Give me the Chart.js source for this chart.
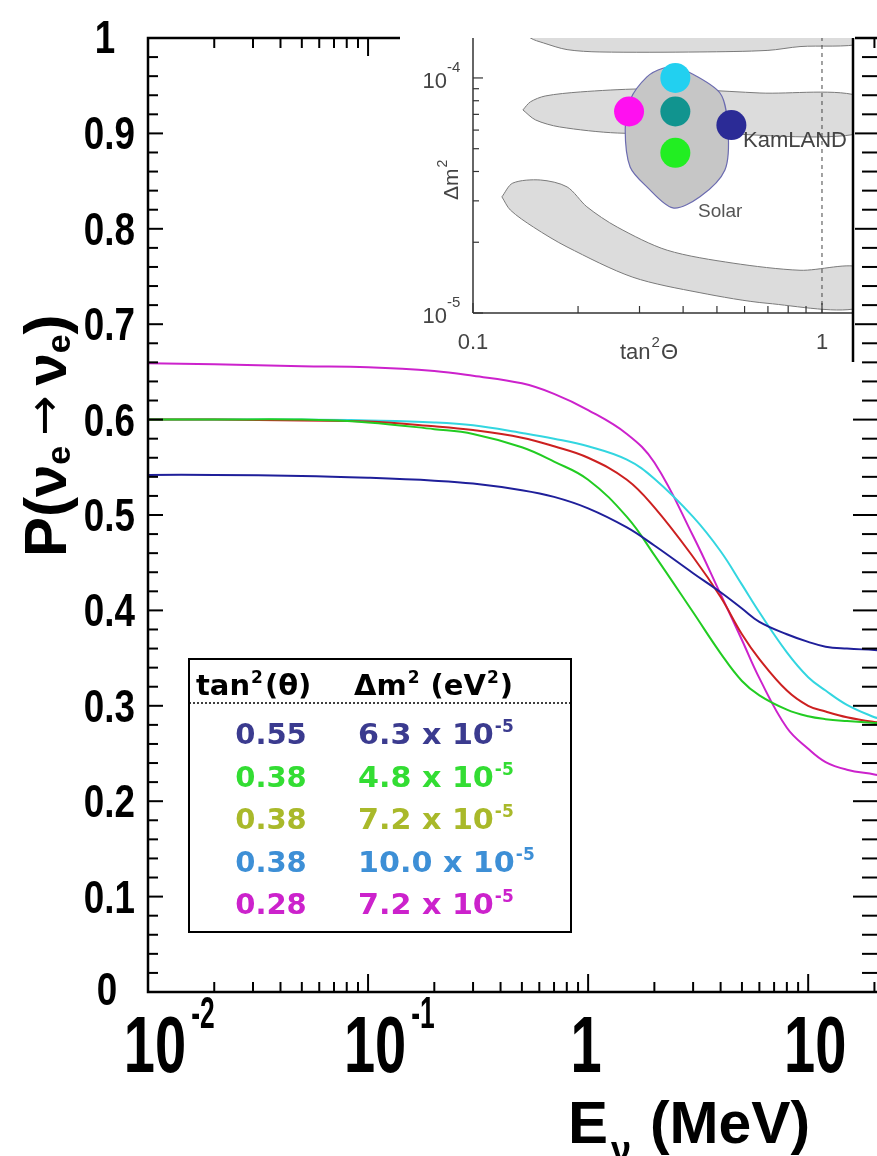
<!DOCTYPE html>
<html>
<head>
<meta charset="utf-8">
<title>P(νe → νe) vs Eν</title>
<script src="https://cdn.jsdelivr.net/npm/chart.js@4.4.1/dist/chart.umd.min.js"></script>
<style>
  html, body { margin: 0; padding: 0; background: #fff; overflow: hidden; }
  #wrap { position: relative; width: 877px; height: 1156px; overflow: hidden; }
  #main { position: absolute; left: 0; top: 0; }
  #inset { position: absolute; left: 400px; top: 0; background: #fff; }
</style>
</head>
<body>
<div id="wrap">
  <canvas id="main" width="882" height="1156"></canvas>
  <canvas id="inset" width="455" height="362"></canvas>
</div>
<script>
// ---- main plot data: survival probability vs neutrino energy (MeV)
const energies = [0.01, 0.02, 0.05, 0.1, 0.2, 0.3, 0.5, 0.7, 1, 1.5, 2, 3, 4, 5, 6, 8, 10, 12, 15, 20, 21];
const probBlue    = [0.542, 0.542, 0.541, 0.539, 0.536, 0.533, 0.526, 0.519, 0.507, 0.487, 0.468, 0.439, 0.419, 0.402, 0.388, 0.375, 0.367, 0.362, 0.360, 0.3585, 0.358];
const probGreen   = [0.600, 0.600, 0.600, 0.597, 0.590, 0.585, 0.571, 0.556, 0.537, 0.498, 0.458, 0.398, 0.355, 0.326, 0.311, 0.296, 0.289, 0.286, 0.284, 0.282, 0.282];
const probRed     = [0.600, 0.600, 0.599, 0.598, 0.593, 0.589, 0.581, 0.572, 0.560, 0.537, 0.508, 0.456, 0.414, 0.375, 0.349, 0.316, 0.300, 0.294, 0.288, 0.283, 0.283];
const probCyan    = [0.600, 0.600, 0.600, 0.599, 0.597, 0.594, 0.586, 0.580, 0.572, 0.558, 0.538, 0.498, 0.462, 0.427, 0.398, 0.356, 0.330, 0.316, 0.301, 0.288, 0.287];
const probMagenta = [0.659, 0.658, 0.656, 0.655, 0.651, 0.646, 0.638, 0.627, 0.610, 0.585, 0.555, 0.478, 0.417, 0.369, 0.329, 0.277, 0.255, 0.241, 0.233, 0.228, 0.227];

const yTickValues = [0, 0.1, 0.2, 0.3, 0.4, 0.5, 0.6, 0.7, 0.8, 0.9, 1];
const xTickValues = [0.01, 0.1, 1, 10];
const xTickBase = ['10', '10', '1', '10'];
const xTickExp = ['-2', '-1', '', ''];

// legend table (tan^2 theta, delta m^2 in 1e-5 eV^2)
const tanValues = [0.55, 0.38, 0.38, 0.38, 0.28];
const dmValues = [6.3, 4.8, 7.2, 10.0, 7.2];
const tanLabels = ['0.55', '0.38', '0.38', '0.38', '0.28'];
const dmLabels = ['6.3', '4.8', '7.2', '10.0', '7.2'];
const legendColors = ['#3b3b8f', '#33dd33', '#a9b92a', '#3d8fd6', '#cc22cc'];
const curveColors = ['#1f1f9a', '#22cc22', '#cc2020', '#33d6e0', '#cc22cc'];
const dotColors = ['#2b2b96', '#22ee22', '#11948f', '#22d0f0', '#ff10f0'];

// ---- inset contours, points are [tan^2 theta, delta m^2]
const kamlandTop = [[0.140, 1.6e-4], [0.146, 1.48e-4], [0.159, 1.41e-4], [0.186, 1.32e-4], [0.231, 1.29e-4], [0.447, 1.29e-4],
  [0.70, 1.31e-4], [0.865, 1.36e-4], [1.3, 1.40e-4], [1.3, 1.6e-4], [0.140, 1.6e-4]];
const kamlandMid = [[0.139, 7.31e-5], [0.146, 7.91e-5], [0.161, 8.38e-5], [0.203, 8.72e-5], [0.301, 8.98e-5], [0.447, 8.89e-5],
  [0.664, 8.63e-5], [1.3, 8.30e-5], [1.3, 5.83e-5], [0.447, 5.83e-5], [0.259, 5.83e-5], [0.177, 6.19e-5], [0.151, 6.63e-5], [0.139, 7.31e-5]];
const kamlandLow = [[0.121, 3.12e-5], [0.130, 3.57e-5], [0.156, 3.68e-5], [0.186, 3.44e-5], [0.212, 2.83e-5], [0.259, 2.32e-5],
  [0.360, 1.85e-5], [0.556, 1.63e-5], [0.865, 1.52e-5], [1.3, 1.55e-5], [1.3, 1.06e-5], [0.696, 1.10e-5], [0.447, 1.22e-5],
  [0.287, 1.42e-5], [0.186, 1.91e-5], [0.149, 2.32e-5], [0.128, 2.74e-5], [0.121, 3.12e-5]];
const solarRegion = [[0.392, 1.114e-4], [0.510, 8.63e-5], [0.538, 6.01e-5], [0.527, 4.06e-5], [0.447, 3.12e-5], [0.374, 2.80e-5],
  [0.315, 3.44e-5], [0.282, 4.18e-5], [0.273, 6.01e-5], [0.282, 8.06e-5], [0.315, 1.01e-4], [0.350, 1.10e-4], [0.392, 1.114e-4]];

const SANS = '"Liberation Sans", Arial, Helvetica, sans-serif';
const DJ = '"DejaVu Sans", Verdana, sans-serif';

function seg(ctx, x1, y1, x2, y2) {
  ctx.beginPath(); ctx.moveTo(x1, y1); ctx.lineTo(x2, y2); ctx.stroke();
}
function text(ctx, s, x, y, font, color, align = 'left', sx = 1) {
  ctx.save();
  ctx.font = font; ctx.fillStyle = color; ctx.textAlign = 'left'; ctx.textBaseline = 'alphabetic';
  const w = ctx.measureText(s).width * sx;
  const x0 = align === 'right' ? x - w : align === 'center' ? x - w / 2 : x;
  ctx.translate(x0, y); ctx.scale(sx, 1); ctx.fillText(s, 0, 0);
  ctx.restore();
  return w;
}
const pts = (arr) => arr.map(p => ({x: p[0], y: p[1]}));
const series = (vals) => energies.map((e, i) => ({x: e, y: vals[i]}));

const mainDeco = {
  id: 'mainDeco',
  afterDraw(chart) {
    const ctx = chart.ctx, xs = chart.scales.x, ys = chart.scales.y, a = chart.chartArea;
    ctx.save();
    ctx.strokeStyle = '#000';
    ctx.lineWidth = 2.5;
    ctx.strokeRect(a.left, a.top, a.right - a.left, a.bottom - a.top);
    ctx.lineWidth = 2;
    // y ticks every 0.02
    for (let k = 0; k <= 50; k++) {
      const py = ys.getPixelForValue(k / 50), major = k % 5 === 0;
      seg(ctx, a.left, py, a.left + (major ? 15 : 10), py);
      seg(ctx, a.right, py, a.right - (major ? 27 : 18), py);
    }
    // x ticks (log)
    for (let d = -2; d <= 1; d++) {
      for (let m = 1; m <= 9; m++) {
        const v = m * Math.pow(10, d);
        if (v < xs.min || v > xs.max) continue;
        const px = xs.getPixelForValue(v), len = m === 1 ? 18 : 10;
        seg(ctx, px, a.bottom, px, a.bottom - len);
        seg(ctx, px, a.top, px, a.top + len);
      }
    }
    // y tick labels
    yTickValues.forEach(v => {
      const py = ys.getPixelForValue(v);
      const f = `bold 46px ${SANS}`;
      if (v === 0) text(ctx, '0', 107, 1005, f, '#000', 'center', 0.8);
      else if (v === 1) text(ctx, '1', 105, 53, f, '#000', 'center', 0.8);
      else text(ctx, v.toFixed(1), 135, py + 16, f, '#000', 'right', 0.8);
    });
    // x tick labels
    xTickValues.forEach((v, i) => {
      const px = xs.getPixelForValue(v) + (xTickBase[i] === '10' ? 7 : -2);
      const w = text(ctx, xTickBase[i], px, 1072, `bold 80px ${SANS}`, '#000', 'center', 0.7);
      if (xTickExp[i]) text(ctx, xTickExp[i], px + w / 2 + 5, 1028, `bold 44px ${SANS}`, '#000', 'left', 0.6);
    });
    // x title
    text(ctx, 'E', 568, 1143, `bold 60px ${SANS}`, '#000');
    text(ctx, 'ν', 611, 1162, `bold 36px ${SANS}`, '#000');
    text(ctx, '(MeV)', 650, 1143, `bold 60px ${SANS}`, '#000', 'left', 0.98);
    // y title (rotated)
    ctx.save();
    ctx.translate(66, 557);
    ctx.rotate(-Math.PI / 2);
    let p = 0;
    p += text(ctx, 'P(', p, 0, `bold 60px ${SANS}`, '#000');
    p += text(ctx, 'ν', p, 0, `bold 58px ${SANS}`, '#000');
    p += text(ctx, 'e', p, 4, `bold 34px ${SANS}`, '#000');
    p += 10;
    p += text(ctx, '→', p, -6, `48px ${DJ}`, '#000');
    p += 10;
    p += text(ctx, 'ν', p, 0, `bold 58px ${SANS}`, '#000');
    p += text(ctx, 'e', p, 4, `bold 34px ${SANS}`, '#000');
    text(ctx, ')', p, 0, `bold 60px ${SANS}`, '#000');
    ctx.restore();
    // legend table
    const L = {left: 189, top: 659, right: 571, bottom: 932};
    ctx.fillStyle = '#fff';
    ctx.fillRect(L.left, L.top, L.right - L.left, L.bottom - L.top);
    ctx.lineWidth = 2;
    ctx.strokeRect(L.left, L.top, L.right - L.left, L.bottom - L.top);
    const hf = `bold 29px ${DJ}`, sf = `bold 17px ${DJ}`;
    let x = 196;
    x += text(ctx, 'tan', x, 695, hf, '#000');
    x += text(ctx, '2', x + 1, 683, sf, '#000') + 3;
    text(ctx, '(θ)', x, 695, hf, '#000');
    x = 354;
    x += text(ctx, 'Δm', x, 695, hf, '#000');
    x += text(ctx, '2', x + 1, 683, sf, '#000') + 2;
    x += text(ctx, ' (eV', x, 695, hf, '#000');
    x += text(ctx, '2', x + 1, 683, sf, '#000') + 2;
    text(ctx, ')', x, 695, hf, '#000');
    ctx.lineWidth = 1.5;
    ctx.setLineDash([2, 2]);
    seg(ctx, L.left, 703, L.right, 703);
    ctx.setLineDash([]);
    const rf = `bold 29px ${DJ}`;
    tanLabels.forEach((t, i) => {
      const base = 744 + i * 42.5;
      text(ctx, t, 271, base, rf, legendColors[i], 'center');
      let xx = 358;
      xx += text(ctx, dmLabels[i] + ' x 10', xx, base, rf, legendColors[i], 'left', 1.04);
      text(ctx, '-5', xx + 1, base - 12, `bold 17px ${DJ}`, legendColors[i]);
    });
    ctx.restore();
  }
};

new Chart(document.getElementById('main'), {
  type: 'line',
  data: {
    datasets: [
      {label: '0.55, 6.3e-5', data: series(probBlue), borderColor: curveColors[0]},
      {label: '0.38, 4.8e-5', data: series(probGreen), borderColor: curveColors[1]},
      {label: '0.38, 7.2e-5', data: series(probRed), borderColor: curveColors[2]},
      {label: '0.38, 10.0e-5', data: series(probCyan), borderColor: curveColors[3]},
      {label: '0.28, 7.2e-5', data: series(probMagenta), borderColor: curveColors[4]}
    ]
  },
  options: {
    responsive: false,
    animation: false,
    events: [],
    layout: {autoPadding: false, padding: {left: 148, top: 38, right: 2, bottom: 164}},
    elements: {
      line: {borderWidth: 2, tension: 0.4, fill: false},
      point: {radius: 0}
    },
    scales: {
      x: {type: 'logarithmic', min: 0.01, max: 21.2, display: false},
      y: {type: 'linear', min: 0, max: 1, display: false}
    },
    plugins: {legend: {display: false}, tooltip: {enabled: false}}
  },
  plugins: [mainDeco]
});

// ---- inset
const insetDeco = {
  id: 'insetDeco',
  afterDatasetDraw(chart, args) {
    if (args.index !== 2) return;
    const ctx = chart.ctx;
    text(ctx, 'KamLAND', 343, 147, `22px ${SANS}`, '#444');
    text(ctx, 'Solar', 298, 217, `19px ${SANS}`, '#555');
  },
  afterDraw(chart) {
    const ctx = chart.ctx, xs = chart.scales.x, ys = chart.scales.y, a = chart.chartArea;
    ctx.save();
    ctx.strokeStyle = '#333';
    ctx.lineWidth = 1.5;
    seg(ctx, a.left, a.top, a.left, a.bottom);
    seg(ctx, a.left, a.bottom, a.right, a.bottom);
    ctx.strokeStyle = '#000';
    ctx.lineWidth = 2.5;
    seg(ctx, a.right, a.top, a.right, chart.height);
    ctx.strokeStyle = '#333';
    ctx.lineWidth = 1.2;
    for (let d = -5; d <= -4; d++) {
      for (let m = 1; m <= 9; m++) {
        const v = m * Math.pow(10, d);
        if (v < ys.min || v > ys.max) continue;
        const py = ys.getPixelForValue(v);
        seg(ctx, a.left, py, a.left + (m === 1 ? 10 : 6), py);
      }
    }
    for (let m = 1; m <= 10; m++) {
      const px = xs.getPixelForValue(m / 10);
      seg(ctx, px, a.bottom, px, a.bottom - (m === 1 || m === 10 ? 10 : 7));
    }
    const lf = `22px ${SANS}`, col = '#444';
    [[1e-4, '-4'], [1e-5, '-5']].forEach(([v, e]) => {
      const py = ys.getPixelForValue(v);
      text(ctx, '10', 47, py + 10, lf, col, 'right');
      text(ctx, e, 47, py - 6, `15px ${SANS}`, col);
    });
    text(ctx, '0.1', xs.getPixelForValue(0.1), 349, lf, col, 'center');
    text(ctx, '1', xs.getPixelForValue(1), 349, lf, col, 'center');
    let x = 220;
    x += text(ctx, 'tan', x, 359, lf, col);
    x += text(ctx, '2', x + 1, 347, `15px ${SANS}`, col) + 2;
    text(ctx, 'Θ', x, 359, lf, col);
    ctx.save();
    ctx.translate(58, 182);
    ctx.rotate(-Math.PI / 2);
    const w = text(ctx, 'Δm', -18, 0, `21px ${SANS}`, col);
    text(ctx, '2', -18 + w + 1, -11, `14px ${SANS}`, col);
    ctx.restore();
    ctx.restore();
  }
};

const bandStyle = {backgroundColor: '#dcdcdc', borderColor: '#7a7a7a', borderWidth: 1, fill: 'shape', tension: 0.3, pointRadius: 0};

new Chart(document.getElementById('inset'), {
  type: 'line',
  data: {
    datasets: [
      {label: 'best fits', data: tanValues.map((t, i) => ({x: t, y: dmValues[i] * 1e-5})), showLine: false,
        pointRadius: 15, pointBackgroundColor: dotColors, pointBorderWidth: 0},
      {label: 'tan2=1', data: [{x: 1, y: 1e-5}, {x: 1, y: 1.5e-4}], borderColor: '#444', borderWidth: 1,
        borderDash: [4, 4], pointRadius: 0, fill: false},
      {label: 'Solar', data: pts(solarRegion), backgroundColor: '#c6c6c6', borderColor: '#6b6bb0', borderWidth: 1.2,
        fill: 'shape', tension: 0.3, pointRadius: 0},
      Object.assign({label: 'KamLAND low', data: pts(kamlandLow)}, bandStyle),
      Object.assign({label: 'KamLAND mid', data: pts(kamlandMid)}, bandStyle),
      Object.assign({label: 'KamLAND top', data: pts(kamlandTop)}, bandStyle)
    ]
  },
  options: {
    responsive: false,
    animation: false,
    events: [],
    layout: {autoPadding: false, padding: {left: 73, top: 38, right: 2, bottom: 49}},
    scales: {
      x: {type: 'logarithmic', min: 0.1, max: 1.227, display: false},
      y: {type: 'logarithmic', min: 1e-5, max: 1.479e-4, display: false}
    },
    plugins: {legend: {display: false}, tooltip: {enabled: false}}
  },
  plugins: [insetDeco]
});
</script>
</body>
</html>
